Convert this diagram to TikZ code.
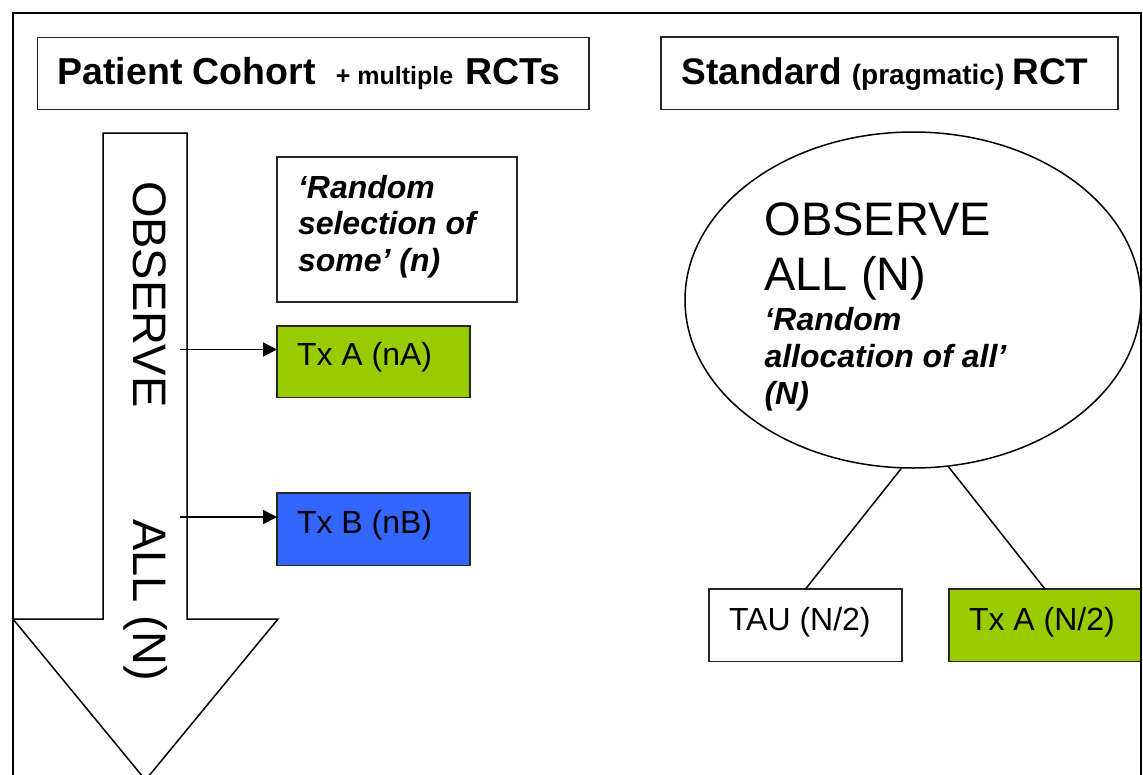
\documentclass[tikz,border=0pt]{standalone}
\usepackage{fontspec}
\setmainfont{Liberation Sans}
\usetikzlibrary{arrows.meta,shapes.geometric}
\definecolor{txgreen}{HTML}{99CC00}
\definecolor{txblue}{HTML}{3366FF}
\begin{document}
\begin{tikzpicture}[x=1pt,y=-1pt,
  boxnode/.style={draw=black!85, line width=1.6pt, rectangle, inner sep=0pt, outer sep=0pt, anchor=north west},
  txt/.style={anchor=base west, inner sep=0pt, outer sep=0pt},
  conn/.style={line width=1.5pt},
  arr/.style={line width=1.8pt, -{Triangle[length=14pt,width=14pt]}},
  bigfont/.style={font=\fontsize{47}{55}\selectfont},
  midfont/.style={font=\fontsize{32}{37}\selectfont},
  ]
\useasboundingbox (0,0) rectangle (1143,774);
\clip (0,0) rectangle (1143,774);
\fill[white] (0,0) rectangle (1143,774);

% title boxes
\node[boxnode, minimum width=551.4pt, minimum height=72pt] (t1) at (37.3,37.3) {};
\node[txt] (t1txt) at (57.5,84) {\fontsize{37.5}{44}\selectfont\bfseries Patient Cohort\hspace{20pt}{\fontsize{25}{28}\selectfont + multiple}\hspace{12.5pt}RCTs};
\node[boxnode, minimum width=456.7pt, minimum height=72.6pt] (t2) at (661,36.7) {};
\node[txt] (t2txt) at (681.5,84) {\fontsize{37}{44}\selectfont\bfseries Standard\hspace{10pt}{\fontsize{28}{32}\selectfont (pragmatic)}\hspace{8pt}RCT};

% big downward arrow
\draw[conn, fill=white] (103,133) -- (187,133) -- (187,619) -- (278,619) -- (145.5,780) -- (13,619) -- (103,619) -- cycle;
\node[txt, rotate=-90, bigfont] (obs1) at (133,181) {OBSERVE};
\node[txt, rotate=-90, bigfont] (all1) at (133,519) {ALL (N)};

% random selection box
\node[boxnode, minimum width=240pt, minimum height=145pt] (rsel) at (277,157) {};
\node[txt] (rseltxt) at (298,198) {\parbox[t]{220pt}{\raggedright\fontsize{32}{36.8}\selectfont\bfseries\itshape ‘Random\par selection of\par some’ (n)}};

% treatment boxes (left)
\node[boxnode, fill=txgreen, minimum width=193pt, minimum height=71.5pt] (txa) at (277,326) {};
\node[txt, midfont] (txatxt) at (297,365.7) {Tx A (nA)};
\node[boxnode, fill=txblue, minimum width=193pt, minimum height=72.5pt] (txb) at (277,493) {};
\node[txt, midfont] (txbtxt) at (297,533) {Tx B (nB)};

\coordinate (sa) at (180,349.5);
\coordinate (sb) at (180,517);
\draw[arr] (sa) -- (sa -| txa.west);
\draw[arr] (sb) -- (sb -| txb.west);

% ellipse
\node[ellipse, draw, line width=1.5pt, inner sep=0pt, minimum width=456pt, minimum height=336pt] (ell) at (913,300) {};
\node[txt] (elltxt) at (764.5,235) {\parbox[t]{360pt}{\raggedright\fontsize{47}{55}\selectfont OBSERVE\par ALL (N)\par\vspace{3pt}\fontsize{32}{37}\selectfont\bfseries\itshape ‘Random\par allocation of all’\par (N)}};

% right boxes
\node[boxnode, minimum width=193pt, minimum height=72.5pt] (tau) at (709,589) {};
\node[txt, midfont] (tautxt) at (729,630.7) {TAU (N/2)};
\node[boxnode, fill=txgreen, minimum width=192pt, minimum height=72.5pt] (txa2) at (949,589) {};
\node[txt, midfont] (txa2txt) at (969,630.7) {Tx A (N/2)};

\draw[conn] (ell.-94.4) -- (tau.north);
\draw[conn] (ell.-78.4) -- (txa2.north);

% outer frame
\draw[line width=2.2pt] (13,780) -- (13,13) -- (1141,13) -- (1141,780);
\end{tikzpicture}
\end{document}
